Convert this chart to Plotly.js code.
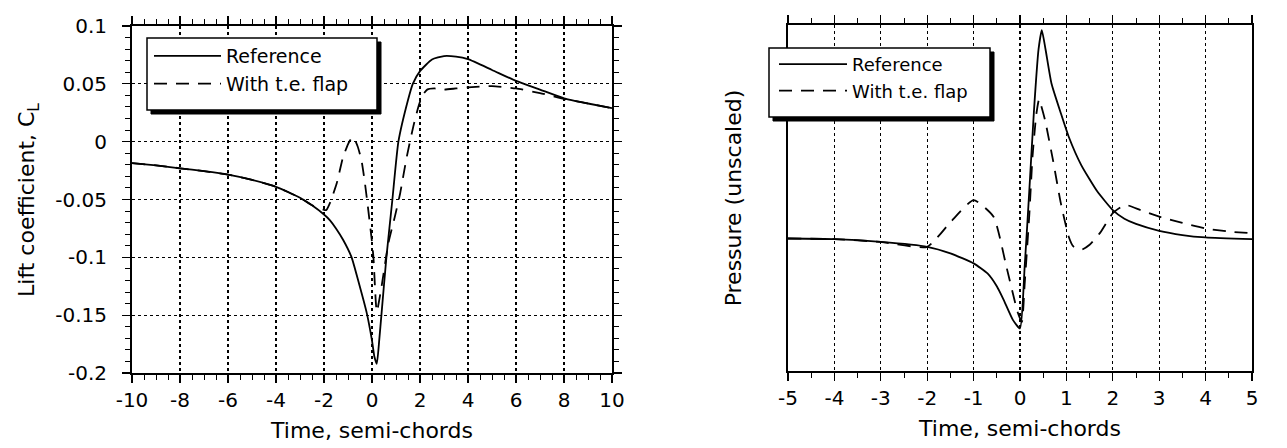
<!DOCTYPE html>
<html>
<head>
<meta charset="utf-8">
<script src="https://cdn.plot.ly/plotly-3.0.1.min.js"></script>
<style>html,body{margin:0;padding:0;background:#fff;}#chart{width:1287px;height:448px;}</style>
</head>
<body>
<div id="chart"></div>
<script>
// ---- Left panel: lift coefficient vs time (semi-chords) ----
const liftRefX = [-10,-9,-8,-7,-6,-5,-4,-3.5,-3,-2.5,-2,-1.75,-1.5,-1.2,-0.85,-0.55,-0.22,0,0.1,0.2,0.3,0.4,0.6,0.85,1.1,1.5,1.7,2,2.5,3,3.5,4,5,6,7,8,9,10];
const liftRefY = [-0.0185,-0.0205,-0.023,-0.0255,-0.0285,-0.033,-0.039,-0.0435,-0.0485,-0.055,-0.063,-0.068,-0.075,-0.085,-0.1,-0.122,-0.148,-0.172,-0.186,-0.192,-0.172,-0.148,-0.1,-0.05,0.0,0.036,0.05,0.061,0.071,0.074,0.0735,0.0713,0.062,0.0525,0.045,0.0375,0.033,0.029];
const liftFlapX = [-10,-9,-8,-7,-6,-5,-4,-3.5,-3,-2.5,-2,-1.9,-1.75,-1.47,-1.2,-0.95,-0.79,-0.6,-0.44,-0.3,-0.15,-0.01,0.06,0.2,0.4,0.68,0.95,1.17,1.44,1.72,1.93,2.1,2.3,2.6,3,3.5,4,5,6,7,8,9,10];
const liftFlapY = [-0.0185,-0.0205,-0.023,-0.0255,-0.0285,-0.033,-0.039,-0.0435,-0.0485,-0.055,-0.059,-0.059,-0.053,-0.036,-0.013,0.0,0.004,-0.004,-0.016,-0.035,-0.06,-0.085,-0.1,-0.147,-0.125,-0.088,-0.065,-0.045,-0.014,0.013,0.03,0.04,0.045,0.046,0.045,0.046,0.047,0.048,0.046,0.042,0.037,0.033,0.029];

// ---- Right panel: pressure (unscaled) vs time (semi-chords) ----
const presRefX = [-5,-4,-3,-2,-1.5,-1,-0.7,-0.5,-0.36,-0.15,0,0.1,0.2,0.3,0.4,0.47,0.55,0.68,0.88,1.05,1.32,1.66,2,2.25,2.5,3,3.5,4,5];
const presRefY = [0.383,0.381,0.373,0.359,0.340,0.311,0.282,0.245,0.208,0.147,0.123,0.30,0.52,0.75,0.93,0.985,0.93,0.83,0.745,0.677,0.595,0.52,0.465,0.44,0.425,0.405,0.393,0.386,0.381];
const presFlapX = [-5,-4,-3,-2,-1.5,-1,-0.57,-0.29,-0.05,0.04,0.1,0.2,0.27,0.35,0.41,0.45,0.54,0.71,0.88,1.05,1.15,1.32,1.5,1.73,2,2.27,2.6,3,3.5,4,4.5,5];
const presFlapY = [0.383,0.381,0.373,0.359,0.43,0.494,0.446,0.30,0.17,0.142,0.25,0.45,0.62,0.74,0.785,0.77,0.725,0.61,0.485,0.388,0.36,0.35,0.365,0.40,0.456,0.48,0.465,0.446,0.428,0.412,0.403,0.398];

// ---- Tick labels ----
const liftXTicks = [-10,-8,-6,-4,-2,0,2,4,6,8,10];
const liftXText = ["-10","-8","-6","-4","-2","0","2","4","6","8","10"];
const liftYTicks = [-0.2,-0.15,-0.1,-0.05,0,0.05,0.1];
const liftYText = ["-0.2","-0.15","-0.1","-0.05","0","0.05","0.1"];
const presXTicks = [-5,-4,-3,-2,-1,0,1,2,3,4,5];
const presXText = ["-5","-4","-3","-2","-1","0","1","2","3","4","5"];

const seriesNames = ["Reference", "With t.e. flap"];

const W = 1287, H = 448;
const px = v => v / W;
const py = v => 1 - v / H;
const FONT = "DejaVu Sans, Liberation Sans, Arial, sans-serif";
const TITLE_FONT = {family: FONT, size: 22, color: "#000"};

const solid = {color: "#000", width: 1.8, shape: "spline", smoothing: 0.5};
const dashed = {color: "#000", width: 1.8, dash: "13px,9px", shape: "spline", smoothing: 0.5};

const traces = [
  {x: liftRefX, y: liftRefY, name: seriesNames[0], mode: "lines", xaxis: "x", yaxis: "y", legend: "legend", line: solid},
  {x: liftFlapX, y: liftFlapY, name: seriesNames[1], mode: "lines", xaxis: "x", yaxis: "y", legend: "legend", line: dashed},
  {x: presRefX, y: presRefY, name: seriesNames[0], mode: "lines", xaxis: "x2", yaxis: "y2", legend: "legend2", line: solid},
  {x: presFlapX, y: presFlapY, name: seriesNames[1], mode: "lines", xaxis: "x2", yaxis: "y2", legend: "legend2", line: dashed}
];

const axisCommon = {
  showline: true, linecolor: "#000", linewidth: 2, mirror: "ticks",
  ticks: "outside", ticklen: 8, tickwidth: 1.3, tickcolor: "#000",
  showgrid: true, gridcolor: "#000", gridwidth: 1.2, griddash: "dot",
  zeroline: false, automargin: false,
  tickfont: {family: FONT, size: 20, color: "#000"}
};
const minorX = {ticks: "outside", ticklen: 5, tickwidth: 1, tickcolor: "#000", showgrid: false};

// legend frame: black shadow block, then white box with border on top (figure pixels)
function legendFrame(l, t, r, b) {
  return [
    {type: "rect", xref: "paper", yref: "paper", x0: px(l + 4), x1: px(r + 4), y0: py(b + 4), y1: py(t + 4),
     fillcolor: "#000", line: {color: "#000", width: 1}, layer: "above"},
    {type: "rect", xref: "paper", yref: "paper", x0: px(l), x1: px(r), y0: py(b), y1: py(t),
     fillcolor: "#fff", line: {color: "#000", width: 1.5}, layer: "above"}
  ];
}

const layout = {
  width: W, height: H,
  margin: {l: 0, r: 0, t: 0, b: 0},
  paper_bgcolor: "#fff", plot_bgcolor: "#fff",
  font: {family: FONT, color: "#000"},
  showlegend: true,
  xaxis: Object.assign({}, axisCommon, {
    domain: [px(132), px(612)], range: [-10, 10], anchor: "y",
    tickmode: "array", tickvals: liftXTicks, ticktext: liftXText, ticklabelstandoff: 0,
    minor: Object.assign({dtick: 0.5}, minorX),
    title: {text: "Time, semi-chords", font: TITLE_FONT, standoff: 12}
  }),
  yaxis: Object.assign({}, axisCommon, {
    domain: [py(373), py(26)], range: [-0.2, 0.1], anchor: "x",
    tickmode: "array", tickvals: liftYTicks, ticktext: liftYText, ticklabelstandoff: 11,
    minor: Object.assign({dtick: 0.01}, minorX)
  }),
  xaxis2: Object.assign({}, axisCommon, {
    domain: [px(788), px(1252)], range: [-5, 5], anchor: "y2",
    tickmode: "array", tickvals: presXTicks, ticktext: presXText, ticklabelstandoff: 0,
    minor: Object.assign({dtick: 0.5}, minorX),
    title: {text: "Time, semi-chords", font: TITLE_FONT, standoff: 12}
  }),
  yaxis2: Object.assign({}, axisCommon, {
    domain: [py(371), py(25)], range: [0, 1], anchor: "x2",
    showticklabels: false, ticks: "", showgrid: false,
    title: {text: "Pressure (unscaled)", font: TITLE_FONT, standoff: 38}
  }),
  annotations: [
    {text: "Lift coefficient, C<sub>L</sub>", xref: "paper", yref: "paper", x: px(28), y: py(200),
     xanchor: "center", yanchor: "middle", textangle: -90, showarrow: false, font: TITLE_FONT}
  ],
  legend: {
    x: px(149), y: py(37), xanchor: "left", yanchor: "top",
    bgcolor: "rgba(0,0,0,0)", borderwidth: 0,
    font: {family: FONT, size: 19, color: "#000"},
    itemwidth: 67, tracegroupgap: 0
  },
  legend2: {
    x: px(774), y: py(46), xanchor: "left", yanchor: "top",
    bgcolor: "rgba(0,0,0,0)", borderwidth: 0,
    font: {family: FONT, size: 18, color: "#000"},
    itemwidth: 68, tracegroupgap: 0
  },
  shapes: [].concat(legendFrame(147, 38, 377, 110), legendFrame(769, 48, 990, 117))
};

Plotly.newPlot("chart", traces, layout, {displayModeBar: false, staticPlot: true});
</script>
</body>
</html>
